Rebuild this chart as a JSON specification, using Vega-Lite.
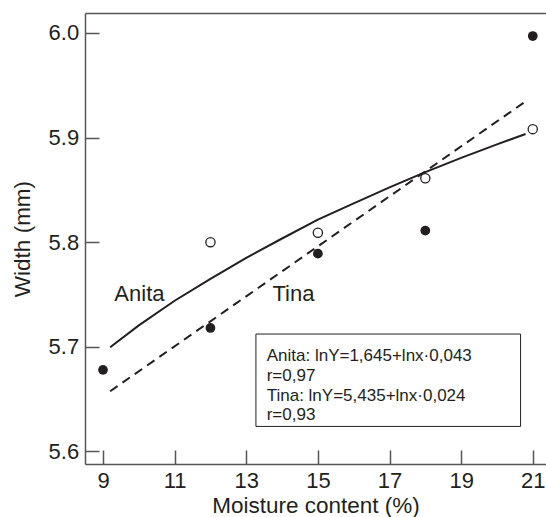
{
  "$schema": "https://vega.github.io/schema/vega-lite/v6.json",
  "width": 461,
  "height": 451,
  "autosize": {"type": "none"},
  "padding": {"left": 85, "top": 13, "right": 0, "bottom": 53},
  "background": "white",
  "config": {
    "view": {"stroke": null},
    "font": "Liberation Sans",
    "axis": {
      "grid": false,
      "domainColor": "#555555",
      "domainWidth": 1.5,
      "tickColor": "#555555",
      "tickWidth": 1.5,
      "tickSize": -14,
      "labelFont": "Liberation Sans",
      "labelFontSize": 22,
      "labelColor": "#231f20",
      "titleFont": "Liberation Sans",
      "titleFontSize": 22.5,
      "titleFontWeight": "normal",
      "titleColor": "#231f20"
    }
  },
  "datasets": {
    "curves": [
      {"series": "Anita", "x": 9.2, "y": 5.6995},
      {"series": "Anita", "x": 10, "y": 5.7205},
      {"series": "Anita", "x": 11, "y": 5.744},
      {"series": "Anita", "x": 12, "y": 5.765},
      {"series": "Anita", "x": 13, "y": 5.785},
      {"series": "Anita", "x": 14, "y": 5.8035},
      {"series": "Anita", "x": 15, "y": 5.8215},
      {"series": "Anita", "x": 16, "y": 5.837},
      {"series": "Anita", "x": 17, "y": 5.8524},
      {"series": "Anita", "x": 18, "y": 5.867},
      {"series": "Anita", "x": 19, "y": 5.8805},
      {"series": "Anita", "x": 20, "y": 5.8935},
      {"series": "Anita", "x": 20.8, "y": 5.9034},
      {"series": "Tina", "x": 9.2, "y": 5.6575},
      {"series": "Tina", "x": 20.8, "y": 5.9345}
    ],
    "points": [
      {"series": "Anita", "x": 12, "y": 5.8},
      {"series": "Anita", "x": 15, "y": 5.809},
      {"series": "Anita", "x": 18, "y": 5.861},
      {"series": "Anita", "x": 21, "y": 5.908},
      {"series": "Tina", "x": 9, "y": 5.678},
      {"series": "Tina", "x": 12, "y": 5.718},
      {"series": "Tina", "x": 15, "y": 5.789},
      {"series": "Tina", "x": 18, "y": 5.811},
      {"series": "Tina", "x": 21, "y": 5.997}
    ],
    "box": [
      {"x1": 13.27, "x2": 20.66, "y1": 5.7122, "y2": 5.6239}
    ],
    "labels": [
      {"text": "Anita", "x": 9.316, "y": 5.744},
      {"text": "Tina", "x": 13.73, "y": 5.744}
    ],
    "boxtext": [
      {"text": "Anita: lnY=1,645+lnx·0,043", "x": 13.571, "y": 5.6867},
      {"text": "r=0,97", "x": 13.571, "y": 5.6671},
      {"text": "Tina: lnY=5,435+lnx·0,024", "x": 13.571, "y": 5.648},
      {"text": "r=0,93", "x": 13.571, "y": 5.6303}
    ]
  },
  "resolve": {"axis": {"x": "independent"}},
  "layer": [
    {
      "data": {"name": "box"},
      "mark": {"type": "rect", "fill": "white", "stroke": "#231f20", "strokeWidth": 1},
      "encoding": {
        "x": {"field": "x1", "type": "quantitative", "scale": {"domain": [8.497, 21.37], "nice": false, "zero": false},
          "axis": {"orient": "top", "labels": false, "ticks": false, "domain": true, "title": null}},
        "x2": {"field": "x2"},
        "y": {"field": "y1", "type": "quantitative", "scale": {"domain": [5.588, 6.019], "nice": false, "zero": false},
          "axis": {"values": [5.6, 5.7, 5.8, 5.9, 6.0], "format": ".1f", "title": "Width (mm)", "labelPadding": 20.3, "titlePadding": 14}},
        "y2": {"field": "y2"}
      }
    },
    {
      "data": {"name": "curves"},
      "transform": [{"filter": "datum.series === 'Anita'"}],
      "mark": {"type": "line", "color": "#231f20", "strokeWidth": 2},
      "encoding": {
        "x": {"field": "x", "type": "quantitative",
          "axis": {"orient": "bottom", "values": [9, 11, 13, 15, 17, 19, 21], "title": "Moisture content (%)", "labelPadding": 20.3, "titlePadding": 3}},
        "y": {"field": "y", "type": "quantitative"}
      }
    },
    {
      "data": {"name": "curves"},
      "transform": [{"filter": "datum.series === 'Tina'"}],
      "mark": {"type": "line", "color": "#231f20", "strokeWidth": 2, "strokeDash": [9, 6]},
      "encoding": {
        "x": {"field": "x", "type": "quantitative", "axis": null},
        "y": {"field": "y", "type": "quantitative"}
      }
    },
    {
      "data": {"name": "points"},
      "transform": [{"filter": "datum.series === 'Tina'"}],
      "mark": {"type": "circle", "fill": "#231f20", "opacity": 1, "size": 95},
      "encoding": {
        "x": {"field": "x", "type": "quantitative", "axis": null},
        "y": {"field": "y", "type": "quantitative"}
      }
    },
    {
      "data": {"name": "points"},
      "transform": [{"filter": "datum.series === 'Anita'"}],
      "mark": {"type": "circle", "fill": "white", "stroke": "#231f20", "strokeWidth": 1.3, "opacity": 1, "size": 85},
      "encoding": {
        "x": {"field": "x", "type": "quantitative", "axis": null},
        "y": {"field": "y", "type": "quantitative"}
      }
    },
    {
      "data": {"name": "labels"},
      "mark": {"type": "text", "align": "left", "baseline": "alphabetic", "fontSize": 22, "color": "#231f20"},
      "encoding": {
        "x": {"field": "x", "type": "quantitative", "axis": null},
        "y": {"field": "y", "type": "quantitative"},
        "text": {"field": "text"}
      }
    },
    {
      "data": {"name": "boxtext"},
      "mark": {"type": "text", "align": "left", "baseline": "alphabetic", "fontSize": 17, "color": "#231f20"},
      "encoding": {
        "x": {"field": "x", "type": "quantitative", "axis": null},
        "y": {"field": "y", "type": "quantitative"},
        "text": {"field": "text"}
      }
    }
  ]
}
